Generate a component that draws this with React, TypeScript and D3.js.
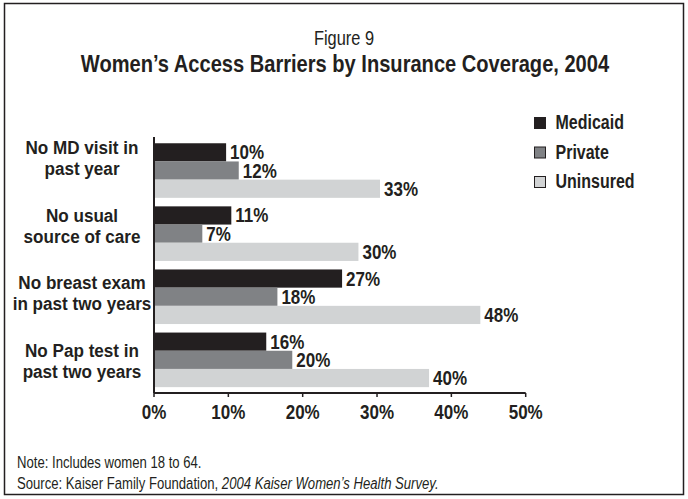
import React from "react";
import * as d3 from "d3";

const categories = [
  ["No MD visit in", "past year"],
  ["No usual", "source of care"],
  ["No breast exam", "in past two years"],
  ["No Pap test in", "past two years"],
];
const categoryKeys = ["md", "usual", "breast", "pap"];
const seriesNames = ["Medicaid", "Private", "Uninsured"];
const seriesColors = ["#231f20", "#808285", "#d1d3d4"];
// printed value labels (%)
const medicaidValues = [10, 11, 27, 16];
const privateValues = [12, 7, 18, 20];
const uninsuredValues = [33, 30, 48, 40];
// bar lengths as drawn against the axis (%)
const medicaidBars = [9.7, 10.4, 25.3, 15.1];
const privateBars = [11.4, 6.5, 16.6, 18.6];
const uninsuredBars = [30.4, 27.5, 43.9, 37.0];
const xTicks = [0, 10, 20, 30, 40, 50];

const W = 688;
const H = 499;
const FONT = "'Liberation Sans', Arial, sans-serif";
const INK = "#231f20";

function NText(props: {
  x: number;
  y: number;
  size: number;
  bold?: boolean;
  anchor?: string;
  sx?: number;
  children: React.ReactNode;
}) {
  const { x, y, size, bold, anchor, children } = props;
  const sx = props.sx ?? 0.82;
  return (
    <g transform={`translate(${x},${y}) scale(${sx},1)`}>
      <text
        x={0}
        y={0}
        fontSize={size}
        fontWeight={bold ? "bold" : "normal"}
        textAnchor={anchor || "start"}
        fill={INK}
      >
        {children}
      </text>
    </g>
  );
}

export default function App() {
  const values = [medicaidValues, privateValues, uninsuredValues];
  const bars = [medicaidBars, privateBars, uninsuredBars];
  const x = d3.scaleLinear().domain([0, 50]).range([154, 525.7]);
  const y = d3
    .scaleBand<string>()
    .domain(categoryKeys)
    .range([139, 391.4])
    .paddingInner(0.135)
    .paddingOuter(0.0675);
  const ys = d3.scaleBand<string>().domain(seriesNames).range([0, y.bandwidth()]);
  const yLabel = d3.scalePoint<string>().domain(categoryKeys).range([154, 357]);

  return (
    <svg
      width={W}
      height={H}
      style={{ position: "fixed", left: 0, top: 0, background: "#fff" }}
      fontFamily={FONT}
    >
      <rect x={4.5} y={3.5} width={679} height={491} fill="#fff" stroke={INK} strokeWidth={1.5} />
      <NText x={344} y={45} size={20} anchor="middle">
        Figure 9
      </NText>
      <NText x={345} y={72} size={24.5} bold anchor="middle">
        Women’s Access Barriers by Insurance Coverage, 2004
      </NText>

      {categories.map((lines, i) =>
        lines.map((l, j) => (
          <NText
            key={categoryKeys[i] + j}
            x={82}
            y={(yLabel(categoryKeys[i]) ?? 0) + j * 21}
            size={19}
            sx={0.9}
            bold
            anchor="middle"
          >
            {l}
          </NText>
        ))
      )}

      {seriesNames.map((s, si) => (
        <g key={s}>
          {categoryKeys.map((c, ci) => {
            const y0 = (y(c) ?? 0) + (ys(s) ?? 0);
            const x1 = x(bars[si][ci]);
            return (
              <g key={c}>
                <rect x={x(0)} y={y0} width={x1 - x(0)} height={ys.bandwidth()} fill={seriesColors[si]} />
                <NText x={x1 + 4} y={y0 + ys.bandwidth() / 2 + 7} size={20} sx={0.85} bold>
                  {values[si][ci]}%
                </NText>
              </g>
            );
          })}
        </g>
      ))}

      <line x1={x(0)} x2={x(0)} y1={137} y2={393} stroke={INK} strokeWidth={2} />
      <line x1={x(0)} x2={x(50)} y1={393} y2={393} stroke={INK} strokeWidth={2} />
      {xTicks.map((t) => (
        <g key={t}>
          <line x1={x(t)} x2={x(t)} y1={393} y2={397} stroke={INK} strokeWidth={1.5} />
          <NText x={x(t)} y={418.5} size={20} sx={0.85} bold anchor="middle">
            {t}%
          </NText>
        </g>
      ))}

      {seriesNames.map((s, i) => (
        <g key={s}>
          <rect
            x={534.5}
            y={117.5 + i * 29.5}
            width={11}
            height={11}
            fill={seriesColors[i]}
            stroke={INK}
            strokeWidth={1}
          />
          <NText x={555.5} y={129 + i * 29.5} size={19.5} bold>
            {s}
          </NText>
        </g>
      ))}

      <NText x={17} y={468} size={16}>
        Note: Includes women 18 to 64.
      </NText>
      <NText x={17} y={489} size={16}>
        Source: Kaiser Family Foundation, <tspan fontStyle="italic">2004 Kaiser Women’s Health Survey.</tspan>
      </NText>
    </svg>
  );
}
